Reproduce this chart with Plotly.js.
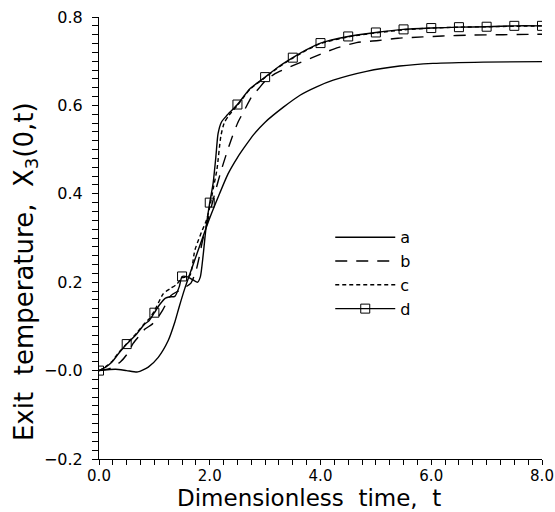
<!DOCTYPE html>
<html>
<head>
<meta charset="utf-8">
<script src="https://cdn.plot.ly/plotly-3.0.1.min.js"></script>
<style>html,body{margin:0;padding:0;background:#fff;}#chart{width:555px;height:512px;}</style>
</head>
<body>
<div id="chart"></div>
<script>
// ---- data ----
const tA = [0, 0.15, 0.3, 0.5, 0.7, 0.89, 1.07, 1.25, 1.37, 1.45, 1.55, 1.7, 1.85, 2.0, 2.15, 2.33, 2.5, 2.63, 2.8, 3.0, 3.33, 3.63, 3.93, 4.23, 4.83, 5.43, 6.03, 6.94, 8.0];
const yA = [0, 0.002, 0.003, 0.0, -0.003, 0.008, 0.03, 0.068, 0.11, 0.145, 0.186, 0.24, 0.293, 0.345, 0.392, 0.445, 0.482, 0.506, 0.535, 0.562, 0.596, 0.623, 0.642, 0.657, 0.677, 0.689, 0.695, 0.698, 0.699];

const tB = [0, 0.2, 0.38, 0.5, 0.62, 0.71, 0.83, 0.95, 1.05, 1.15, 1.3, 1.43, 1.55, 1.66, 1.75, 1.81, 1.87, 1.98, 2.1, 2.2, 2.3, 2.4, 2.51, 2.63, 2.75, 2.91, 3.0, 3.18, 3.5, 3.85, 4.25, 4.65, 5.05, 5.4, 5.85, 6.2, 6.7, 7.3, 8.0];
const yB = [0, 0.005, 0.019, 0.036, 0.062, 0.076, 0.094, 0.104, 0.118, 0.137, 0.17, 0.18, 0.188, 0.198, 0.225, 0.257, 0.294, 0.347, 0.405, 0.45, 0.49, 0.527, 0.562, 0.59, 0.618, 0.642, 0.655, 0.672, 0.69, 0.708, 0.728, 0.742, 0.747, 0.752, 0.755, 0.757, 0.759, 0.76, 0.761];

const tC = [0, 0.12, 0.23, 0.35, 0.5, 0.68, 0.83, 0.9, 1.0, 1.16, 1.28, 1.4, 1.5, 1.64, 1.73, 1.85, 1.94, 2.0, 2.06, 2.13, 2.2, 2.26, 2.35, 2.5, 2.73, 3.0, 3.25, 3.5, 3.75, 4.0, 4.5, 5.0, 5.5, 6.0, 6.5, 7.0, 7.5, 8.0];
const yC = [0, 0.009, 0.02, 0.04, 0.061, 0.085, 0.108, 0.116, 0.135, 0.174, 0.185, 0.195, 0.21, 0.215, 0.272, 0.313, 0.34, 0.37, 0.41, 0.455, 0.53, 0.56, 0.578, 0.6, 0.637, 0.663, 0.687, 0.707, 0.725, 0.74, 0.755, 0.764, 0.771, 0.775, 0.777, 0.778, 0.779, 0.78];

const tD = [0, 0.12, 0.23, 0.35, 0.5, 0.68, 0.83, 0.9, 1.0, 1.1, 1.2, 1.28, 1.37, 1.45, 1.5, 1.6, 1.7, 1.78, 1.83, 1.88, 1.93, 2.0, 2.06, 2.11, 2.15, 2.21, 2.3, 2.4, 2.5, 2.73, 3.0, 3.25, 3.5, 3.75, 4.0, 4.5, 5.0, 5.5, 6.0, 6.5, 7.0, 7.5, 8.0];
const yD = [0, 0.008, 0.019, 0.038, 0.06, 0.083, 0.106, 0.112, 0.131, 0.15, 0.164, 0.167, 0.168, 0.19, 0.213, 0.212, 0.205, 0.2, 0.212, 0.26, 0.32, 0.38, 0.423, 0.483, 0.536, 0.562, 0.576, 0.589, 0.602, 0.638, 0.664, 0.688, 0.708, 0.726, 0.741, 0.756, 0.765, 0.772, 0.775, 0.777, 0.778, 0.78, 0.78];

const tMark = [0, 0.5, 1.0, 1.5, 2.0, 2.5, 3.0, 3.5, 4.0, 4.5, 5.0, 5.5, 6.0, 6.5, 7.0, 7.5, 8.0];
const yMark = [0, 0.06, 0.131, 0.213, 0.38, 0.602, 0.664, 0.708, 0.741, 0.756, 0.765, 0.772, 0.775, 0.777, 0.778, 0.78, 0.78];

const yTickVals = [-0.2, 0, 0.2, 0.4, 0.6, 0.8];
const yTickText = ['\u22120.2', '\u22120.0', '0.2', '0.4', '0.6', '0.8'];
const xTickVals = [0, 2, 4, 6, 8];
const xTickText = ['0.0', '2.0', '4.0', '6.0', '8.0'];
const seriesNames = ['a', 'b', 'c', 'd'];

// markers separated by gaps so the legend shows line + marker without joining squares
const xm = [], ym = [];
tMark.forEach((t, i) => { xm.push(t); ym.push(yMark[i]); if (i < tMark.length - 1) { xm.push(null); ym.push(null); } });

const FONT = 'DejaVu Sans, sans-serif';
const lw = 1.4;
const traces = [
  {x: tA, y: yA, name: seriesNames[0], mode: 'lines', line: {color: '#000', width: lw, shape: 'spline', smoothing: 0.6}},
  {x: tB, y: yB, name: seriesNames[1], mode: 'lines', line: {color: '#000', width: lw, dash: '12px,9px', shape: 'spline', smoothing: 0.6}},
  {x: tC, y: yC, name: seriesNames[2], mode: 'lines', line: {color: '#000', width: lw, dash: '4px,3px', shape: 'spline', smoothing: 0.6}},
  {x: tD, y: yD, name: seriesNames[3], mode: 'lines', showlegend: false, legendgroup: 'd', line: {color: '#000', width: lw, shape: 'spline', smoothing: 0.6}},
  {x: xm, y: ym, name: seriesNames[3], mode: 'lines+markers', legendgroup: 'd', connectgaps: false,
   line: {color: '#000', width: lw}, marker: {symbol: 'square-open', size: 9, color: '#000', line: {width: 1, color: '#000'}}}
];

const layout = {
  width: 555, height: 512,
  margin: {l: 99, r: 13, t: 17, b: 53},
  paper_bgcolor: '#fff', plot_bgcolor: '#fff',
  font: {family: FONT, color: '#000', size: 16},
  showlegend: true,
  legend: {x: 0.522, y: 0.54, xanchor: 'left', yanchor: 'top', bgcolor: 'rgba(0,0,0,0)',
           font: {family: FONT, size: 16, color: '#000'}, itemwidth: 60, tracegroupgap: 0, itemsizing: 'trace'},
  xaxis: {
    range: [0, 8], tickvals: xTickVals, ticktext: xTickText, ticklabeloverflow: 'allow',
    showgrid: false, zeroline: false, showline: true, linecolor: '#000', linewidth: 1,
    ticks: 'outside', ticklen: 5, tickwidth: 1, tickcolor: '#000',
    minor: {dtick: 0.25, ticks: 'outside', ticklen: 5, tickwidth: 1, tickcolor: '#000', showgrid: false},
    tickfont: {family: FONT, size: 15, color: '#000'},
    ticklabelstandoff: -2
  },
  yaxis: {
    range: [-0.2, 0.8], tickvals: yTickVals, ticktext: yTickText,
    showgrid: false, zeroline: false, showline: true, linecolor: '#000', linewidth: 1,
    ticks: 'outside', ticklen: 6, tickwidth: 1, tickcolor: '#000',
    minor: {dtick: 0.02, ticks: 'outside', ticklen: 6, tickwidth: 1, tickcolor: '#000', showgrid: false},
    tickfont: {family: FONT, size: 16, color: '#000'},
    ticklabelstandoff: 6
  },
  annotations: [{
    text: 'Exit\u00a0 temperature,\u00a0 X<sub>3</sub>(0,t)', textangle: -90,
    xref: 'paper', yref: 'paper', x: -0.167, y: 0.423, xanchor: 'center', yanchor: 'middle',
    showarrow: false, font: {family: FONT, size: 26, color: '#000'}
  }, {
    text: 'Dimensionless\u00a0 time,\u00a0 t',
    xref: 'paper', yref: 'paper', x: 0.475, y: -0.12, xanchor: 'center', yanchor: 'bottom',
    showarrow: false, borderpad: 0, font: {family: FONT, size: 23, color: '#000'}
  }]
};

Plotly.newPlot('chart', traces, layout, {staticPlot: true, displayModeBar: false});
</script>
</body>
</html>
